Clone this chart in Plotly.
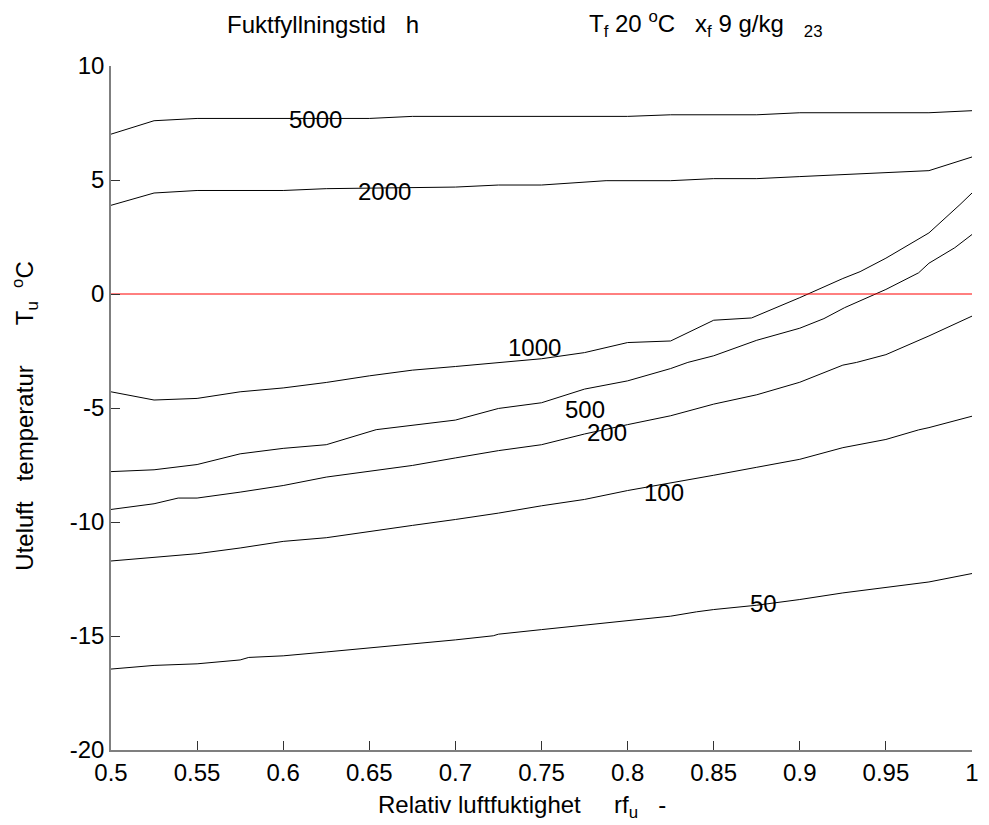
import plotly.graph_objects as go

# ---- data ----
x_5000 = [0.5, 0.525, 0.55, 0.575, 0.6, 0.625, 0.65, 0.675, 0.7, 0.725, 0.75, 0.775, 0.8, 0.825, 0.85, 0.875, 0.9, 0.925, 0.95, 0.975, 1.0]
y_5000 = [7.01, 7.60, 7.70, 7.70, 7.70, 7.70, 7.70, 7.79, 7.79, 7.79, 7.79, 7.79, 7.79, 7.86, 7.86, 7.86, 7.95, 7.95, 7.95, 7.95, 8.04]

x_2000 = [0.5, 0.525, 0.55, 0.575, 0.6, 0.625, 0.65, 0.675, 0.7, 0.725, 0.75, 0.7875, 0.8, 0.825, 0.85, 0.875, 0.9, 0.925, 0.95, 0.975, 1.0]
y_2000 = [3.89, 4.43, 4.54, 4.54, 4.54, 4.62, 4.65, 4.69, 4.69, 4.78, 4.78, 4.97, 4.97, 4.97, 5.06, 5.06, 5.15, 5.24, 5.34, 5.41, 6.01]

x_1000 = [0.5, 0.525, 0.55, 0.575, 0.6, 0.625, 0.65, 0.675, 0.7, 0.725, 0.75, 0.775, 0.8, 0.825, 0.85, 0.872, 0.9, 0.925, 0.935, 0.95, 0.975, 0.993, 1.0]
y_1000 = [-4.29, -4.65, -4.58, -4.29, -4.12, -3.88, -3.59, -3.34, -3.18, -3.00, -2.84, -2.57, -2.13, -2.06, -1.15, -1.05, -0.16, 0.68, 0.98, 1.57, 2.68, 3.92, 4.43]

x_500 = [0.5, 0.525, 0.55, 0.575, 0.6, 0.625, 0.654, 0.7, 0.725, 0.75, 0.775, 0.8, 0.825, 0.835, 0.85, 0.875, 0.9, 0.914, 0.926, 0.95, 0.969, 0.975, 0.99, 1.0]
y_500 = [-7.79, -7.71, -7.48, -7.01, -6.77, -6.61, -5.95, -5.53, -5.02, -4.77, -4.17, -3.81, -3.27, -3.00, -2.71, -2.03, -1.50, -1.08, -0.60, 0.20, 0.93, 1.35, 2.03, 2.61]

x_200 = [0.5, 0.525, 0.539, 0.55, 0.575, 0.6, 0.625, 0.65, 0.675, 0.7, 0.725, 0.75, 0.775, 0.8, 0.825, 0.85, 0.875, 0.9, 0.925, 0.933, 0.95, 0.975, 1.0]
y_200 = [-9.45, -9.20, -8.95, -8.95, -8.69, -8.40, -8.03, -7.77, -7.52, -7.19, -6.87, -6.61, -6.14, -5.73, -5.34, -4.83, -4.42, -3.87, -3.12, -3.00, -2.66, -1.84, -0.97]

x_100 = [0.5, 0.525, 0.55, 0.575, 0.6, 0.625, 0.65, 0.675, 0.7, 0.725, 0.75, 0.775, 0.8, 0.825, 0.85, 0.875, 0.9, 0.925, 0.95, 0.969, 0.975, 1.0]
y_100 = [-11.71, -11.56, -11.39, -11.14, -10.85, -10.69, -10.41, -10.15, -9.89, -9.61, -9.29, -9.01, -8.62, -8.30, -7.95, -7.60, -7.25, -6.74, -6.38, -5.96, -5.86, -5.36]

x_50 = [0.5, 0.525, 0.55, 0.575, 0.58, 0.6, 0.625, 0.65, 0.675, 0.7, 0.722, 0.725, 0.75, 0.775, 0.8, 0.825, 0.84, 0.85, 0.875, 0.9, 0.925, 0.95, 0.975, 1.0]
y_50 = [-16.45, -16.29, -16.22, -16.05, -15.94, -15.87, -15.70, -15.53, -15.35, -15.17, -14.99, -14.92, -14.72, -14.52, -14.30, -14.13, -13.94, -13.84, -13.65, -13.40, -13.11, -12.87, -12.63, -12.26]

curves = [
    ("5000", x_5000, y_5000),
    ("2000", x_2000, y_2000),
    ("1000", x_1000, y_1000),
    ("500", x_500, y_500),
    ("200", x_200, y_200),
    ("100", x_100, y_100),
    ("50", x_50, y_50),
]

# contour label positions (x, y)
label_texts = ["5000", "2000", "1000", "500", "200", "100", "50"]
label_x = [0.619, 0.659, 0.746, 0.775, 0.788, 0.821, 0.879]
label_y = [7.66, 4.50, -2.36, -5.05, -6.07, -8.69, -13.57]

zero_x = [0.5, 1.0]
zero_y = [0, 0]

x_ticks = [0.5, 0.55, 0.6, 0.65, 0.7, 0.75, 0.8, 0.85, 0.9, 0.95, 1.0]
x_ticktext = ["0.5", "0.55", "0.6", "0.65", "0.7", "0.75", "0.8", "0.85", "0.9", "0.95", "1"]
y_ticks = [-20, -15, -10, -5, 0, 5, 10]
y_ticktext = ["-20", "-15", "-10", "-5", "0", "5", "10"]

FONT = "Liberation Sans, Arial, Helvetica, sans-serif"
FS = 24
NB = "\u00a0"

fig = go.Figure()
for name, xs, ys in curves:
    fig.add_trace(go.Scatter(x=xs, y=ys, mode="lines", name=name,
                             line=dict(color="black", width=1), hoverinfo="skip"))
fig.add_trace(go.Scatter(x=zero_x, y=zero_y, mode="lines",
                         line=dict(color="#ff0000", width=1), hoverinfo="skip"))

annotations = []
for t, lx, ly in zip(label_texts, label_x, label_y):
    annotations.append(dict(x=lx, y=ly, xref="x", yref="y", text=t, showarrow=False,
                            font=dict(family=FONT, size=FS, color="black"),
                            xanchor="center", yanchor="middle"))

W, H = 989, 825
L, R, T, B = 111, 10, 66, 75
pw, ph = W - L - R, H - T - B

def px_x(p):
    return (p - L) / pw

def px_y(p):
    return (H - B - p) / ph

# title pieces
annotations.append(dict(x=px_x(226), y=px_y(24), xref="paper", yref="paper",
                        text="Fuktfyllningstid" + NB * 3 + "h", showarrow=False,
                        font=dict(family=FONT, size=FS, color="black"),
                        xanchor="left", yanchor="middle"))
annotations.append(dict(x=px_x(591), y=px_y(24), xref="paper", yref="paper",
                        text="T<sub>f</sub> 20 <sup>o</sup>C" + NB * 3 + "x<sub>f</sub> 9 g/kg" + NB * 3 + "<sub>23</sub>",
                        showarrow=False,
                        font=dict(family=FONT, size=FS, color="black"),
                        xanchor="left", yanchor="middle"))
# x axis label
annotations.append(dict(x=px_x(378), y=px_y(806), xref="paper", yref="paper",
                        text="Relativ luftfuktighet" + NB * 5 + "rf<sub>u</sub>" + NB * 3 + "-",
                        showarrow=False,
                        font=dict(family=FONT, size=FS, color="black"),
                        xanchor="left", yanchor="middle"))
# y axis label
annotations.append(dict(x=px_x(24), y=px_y(416), xref="paper", yref="paper",
                        text="Uteluft" + NB * 3 + "temperatur" + NB * 6 + "T<sub>u</sub>" + NB * 2 + "<sup>o</sup>C",
                        showarrow=False, textangle=-90,
                        font=dict(family=FONT, size=FS, color="black"),
                        xanchor="center", yanchor="middle"))

axis_common = dict(showgrid=False, zeroline=False, showline=True, linecolor="#7f7f7f",
                   linewidth=1.5, ticks="inside", ticklen=9, tickwidth=1, tickcolor="#333",
                   tickfont=dict(family=FONT, size=FS, color="black"), mirror=False)

fig.update_layout(
    width=W, height=H,
    margin=dict(l=L, r=R, t=T, b=B),
    paper_bgcolor="white", plot_bgcolor="white",
    showlegend=False,
    xaxis=dict(range=[0.5, 1.0], tickmode="array", tickvals=x_ticks, ticktext=x_ticktext, **axis_common),
    yaxis=dict(range=[-20, 10], tickmode="array", tickvals=y_ticks, ticktext=y_ticktext, **axis_common),
    annotations=annotations,
)

post = ("var gd=document.getElementById('{plot_id}');"
        "gd.style.position='fixed';gd.style.left='0px';gd.style.top='0px';"
        "document.body.style.margin='0px';document.body.style.overflow='hidden';")
fig.write_html("out.html", config={"displayModeBar": False}, post_script=post)
